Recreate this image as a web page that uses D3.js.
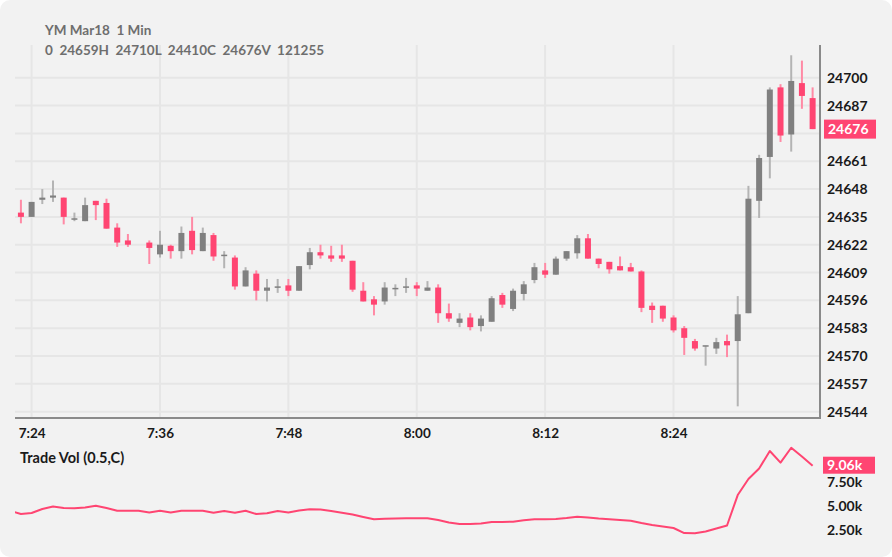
<!DOCTYPE html>
<html><head><meta charset="utf-8">
<script src="https://cdn.jsdelivr.net/npm/d3@7"></script>
<style>
html,body{margin:0;padding:0;background:#fff;}
svg{display:block;font-family:Lato,"Open Sans",sans-serif;}
</style></head>
<body><svg id="c" width="892" height="557"></svg>
<script>
// ---- DATA ----
const times = ["7:23","7:24","7:25","7:26","7:27","7:28","7:29","7:30","7:31","7:32","7:33","7:34","7:35","7:36","7:37","7:38","7:39","7:40","7:41","7:42","7:43","7:44","7:45","7:46","7:47","7:48","7:49","7:50","7:51","7:52","7:53","7:54","7:55","7:56","7:57","7:58","7:59","8:00","8:01","8:02","8:03","8:04","8:05","8:06","8:07","8:08","8:09","8:10","8:11","8:12","8:13","8:14","8:15","8:16","8:17","8:18","8:19","8:20","8:21","8:22","8:23","8:24","8:25","8:26","8:27","8:28","8:29","8:30","8:31","8:32","8:33","8:34","8:35","8:36","8:37"];
const opens = [24637,24635,24643,24644,24644,24633.5,24633,24642.5,24641.5,24630,24624,null,24623,24617.5,24621.5,24619,24628.5,24619,24626.5,24616.5,24616,24602.5,24608.5,24600.5,24601.8,24603,24600.5,24612.5,24618.5,24617,24617,24614.5,24600.5,24596.5,24595.5,24601.2,24601.8,24603,24600.5,24602,24590,24585.5,24588,24584,24586,24598.5,24592,24599,24605.5,24610,24608,24615.5,24618,24625,24615.5,24614,24612,24611.5,24609.5,24593.5,24593.5,24588,24583,24577,24574.5,24573.5,24577,24577,24590,24642.5,24663,24695.5,24673.5,24697.5,24690.5];
const highs = [24643,24642,24648,24652,24644,24637,24644,24642.5,24643.5,24632,24627,null,24624,24628.5,24622,24630.5,24635,24630,24627.5,24619,24617,24611.5,24610,24606,24606,24606,24612,24620.5,24622,24621.5,24622,24614.5,24604.5,24598,24604.5,24603.5,24606.5,24604.5,24605,24603.5,24594.5,24590,24590,24589,24598,24599.5,24601.5,24605,24613.5,24613.5,24616.5,24619,24626.5,24627,24615.5,24614,24616.5,24613.5,24610,24595,24593.5,24589,24584,24578,24574.8,24578.5,24580,24598,24649.5,24664,24695.5,24697,24710.5,24708,24695.5];
const lows = [24632,24635,24641,24642,24631.5,24633,24633,24633.5,24629.5,24621,24621,null,24613,24616,24615.5,24615.5,24617.5,24619,24614.5,24611,24601,24602.5,24596,24595.5,24599.5,24598,24600.5,24610.5,24615.5,24614,24614,24600,24595.5,24589,24594,24598,24599.5,24598,24600.5,24585.5,24586,24583.5,24582,24581.5,24586,24592.5,24591,24596,24604,24606.5,24608,24614.5,24615.5,24615.5,24611,24608.5,24610,24609.5,24590.5,24585.5,24586,24581,24570.5,24572.5,24565.5,24571,24569.5,24546.5,24590,24634.5,24653,24670,24665.5,24685.5,24676];
const closes = [24635,24642,24644,24645,24635,24634,24640.5,24640.5,24629.5,24623,24622,null,24620.5,24622,24619,24627.5,24619.5,24627.5,24616.5,24617,24602.5,24610,24600.5,24602,24602.2,24600.5,24612,24618.5,24617,24615.5,24615.5,24601,24595.5,24594,24602,24601.5,24602.2,24601.5,24602,24590,24587.5,24587.5,24583.5,24587.5,24597,24594,24600.5,24603.5,24611.5,24608,24615.5,24619,24625,24615.5,24613,24610.5,24610,24609.5,24592.5,24591.5,24587.5,24582,24578.5,24573.5,24574.7,24576.5,24575,24589.5,24643.5,24662.5,24694.5,24673,24698.5,24691.5,24676];
// Trade volume (k), one per minute from 7:22 to 8:37
const volTimes = ["7:22"].concat(times);
const volK = [4.3,3.97,4.08,4.50,4.76,4.61,4.57,4.66,4.85,4.61,4.32,4.32,4.32,4.13,4.32,4.13,4.32,4.32,4.32,4.11,4.29,4.11,4.32,3.97,4.05,4.29,4.13,4.34,4.47,4.45,4.29,4.10,3.92,3.66,3.42,3.47,3.50,3.52,3.52,3.52,3.34,3.08,2.92,2.92,2.97,3.13,3.13,3.16,3.31,3.42,3.42,3.45,3.55,3.69,3.61,3.50,3.42,3.34,3.27,3.03,2.82,2.66,2.50,1.97,1.94,2.13,2.45,2.76,5.97,7.66,8.76,10.61,9.39,10.95,10.03,9.06];
const priceTicks = [24544,24557,24570,24583,24596,24609,24622,24635,24648,24661,24674,24687,24700];
const timeTicks = ["7:24","7:36","7:48","8:00","8:12","8:24"];
const volTicks = [2.5,5,7.5];
const headerLine1 = "YM Mar18  1 Min";
const headerLine2 = "0  24659H  24710L  24410C  24676V  121255";
const volTitle = "Trade Vol (0.5,C)";

// ---- HELPERS ----
const toDate = s => { const [h,m] = s.split(":").map(Number); return new Date(2018,2,1,h,m); };
const base = toDate("7:24");
const svg = d3.select("#c");
const W = 892, H = 557;
const PL = 15, PR = 820, PT = 45, PB = 418;
const PINK = "#ff4572", GRAY = "#808080";

svg.append("rect").attr("width",W).attr("height",H).attr("rx",10).attr("fill","#f2f2f2");

const x = d3.scaleTime()
  .domain([new Date(+base - 1.553*60000), new Date(+base + 73.69*60000)])
  .range([PL, PR]);
const y = d3.scaleLinear().domain([24541.05, 24715.3]).range([PB, PT]);
const yv = d3.scaleLinear().domain([0, 11.24]).range([551.75, 445]);

svg.append("clipPath").attr("id","pc").append("rect").attr("x",PL).attr("y",PT).attr("width",PR-PL).attr("height",PB-PT);
svg.append("clipPath").attr("id","vc").append("rect").attr("x",PL).attr("y",440).attr("width",PR-PL+2).attr("height",117);

// grid
const grid = svg.append("g");
grid.selectAll("line.h").data(priceTicks).join("line")
  .attr("x1",PL).attr("x2",PR).attr("y1",d=>y(d)).attr("y2",d=>y(d))
  .attr("stroke","#e6e6e6").attr("stroke-width",2);
grid.selectAll("line.v").data(timeTicks).join("line")
  .attr("x1",d=>x(toDate(d))).attr("x2",d=>x(toDate(d))).attr("y1",PT).attr("y2",PB)
  .attr("stroke","#e6e6e6").attr("stroke-width",2);

// candles
const data = times.map((t,i)=>({t:toDate(t),o:opens[i],h:highs[i],l:lows[i],c:closes[i]})).filter(d=>d.o!=null);
const cg = svg.append("g").attr("clip-path","url(#pc)");
const bw = 6;
cg.selectAll("line.w").data(data).join("line")
  .attr("x1",d=>x(d.t)).attr("x2",d=>x(d.t))
  .attr("y1",d=>y(d.h)).attr("y2",d=>y(d.l))
  .attr("stroke",d=>d.c>=d.o?"#b4b4b4":"#ff8aa5").attr("stroke-width",2);
cg.selectAll("rect.b").data(data).join("rect")
  .attr("x",d=>x(d.t)-bw/2).attr("width",bw)
  .attr("y",d=>Math.min(y(d.o),y(d.c)) - (Math.abs(y(d.o)-y(d.c))<1.5?0.75:0))
  .attr("height",d=>Math.max(1.5,Math.abs(y(d.o)-y(d.c))))
  .attr("fill",d=>d.c>=d.o?GRAY:PINK);

// axes lines
svg.append("line").attr("x1",PR).attr("x2",PR).attr("y1",PT).attr("y2",PB+1).attr("stroke","#8a8a8a").attr("stroke-width",2);
svg.append("line").attr("x1",PL).attr("x2",PR+1).attr("y1",PB).attr("y2",PB).attr("stroke","#8a8a8a").attr("stroke-width",2);

// price axis labels (the tick hidden under the last-price tag is left out)
const last = closes[closes.length-1];
const shownTicks = priceTicks.filter(v => Math.abs(y(v) - y(last)) > 12);
const yAxis = d3.axisRight(y).tickValues(shownTicks).tickSize(0).tickPadding(7).tickFormat(d3.format("d"));
const ya = svg.append("g").attr("transform",`translate(${PR},0)`).call(yAxis);
ya.select(".domain").remove();
ya.selectAll("text").attr("font-size",14).attr("font-weight",700).attr("fill","#1a1a1a").attr("font-family","Lato");

// time axis labels
const xAxis = d3.axisBottom(x).tickValues(timeTicks.map(toDate)).tickSize(0).tickPadding(10).tickFormat(d3.timeFormat("%-H:%M"));
const xa = svg.append("g").attr("transform",`translate(0,${PB})`).call(xAxis);
xa.select(".domain").remove();
xa.selectAll("text").attr("font-size",13.5).attr("font-weight",700).attr("fill","#1a1a1a").attr("font-family","Lato");

// last price highlight
svg.append("rect").attr("x",PR+4).attr("y",y(last)-9.5).attr("width",52).attr("height",19).attr("fill",PINK);
svg.append("text").attr("x",PR+8).attr("y",y(last)).attr("dy","0.36em").attr("font-size",14).attr("font-weight",700)
  .attr("fill","#fff").text(d3.format("d")(last));

// header
svg.append("text").attr("x",45).attr("y",35).attr("font-size",13.5).attr("font-weight",700).attr("fill","#6e6e6e")
  .style("white-space","pre").text(headerLine1);
svg.append("text").attr("x",45).attr("y",55).attr("font-size",13.5).attr("font-weight",700).attr("fill","#6e6e6e")
  .style("white-space","pre").text(headerLine2);

// volume panel
svg.append("text").attr("x",20).attr("y",458).attr("dy","0.36em").attr("font-size",14.5).attr("font-weight",700)
  .attr("fill","#1a1a1a").text(volTitle);
const vdata = volTimes.map((t,i)=>({t:toDate(t),v:volK[i]}));
svg.append("path").datum(vdata).attr("clip-path","url(#vc)")
  .attr("d",d3.line().x(d=>x(d.t)).y(d=>yv(d.v)))
  .attr("fill","none").attr("stroke",PINK).attr("stroke-width",2).attr("stroke-linejoin","round");
const vAxis = d3.axisRight(yv).tickValues(volTicks).tickSize(0).tickPadding(7).tickFormat(d=>d3.format(".2f")(d)+"k");
const va = svg.append("g").attr("transform",`translate(${PR},0)`).call(vAxis);
va.select(".domain").remove();
va.selectAll("text").attr("font-size",14).attr("font-weight",700).attr("fill","#1a1a1a").attr("font-family","Lato")
  .attr("dy","0.45em");
const lastV = volK[volK.length-1];
svg.append("rect").attr("x",PR+3).attr("y",yv(lastV)-9).attr("width",52).attr("height",17).attr("fill",PINK);
svg.append("text").attr("x",PR+7).attr("y",yv(lastV)-0.5).attr("dy","0.36em").attr("font-size",14).attr("font-weight",700)
  .attr("fill","#fff").text(d3.format(".2f")(lastV)+"k");
</script></body></html>
